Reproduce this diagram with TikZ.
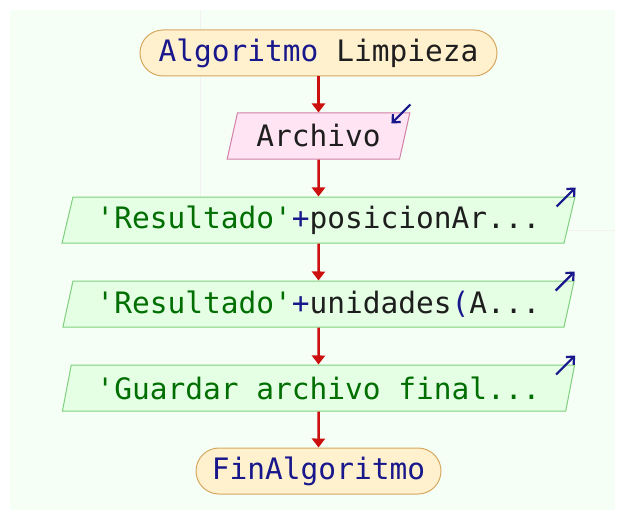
\documentclass[tikz,border=0pt]{standalone}
\usepackage{fontspec}
\setmonofont{DejaVu Sans Mono}
\usetikzlibrary{shapes.geometric}
\usetikzlibrary{arrows.meta}

\definecolor{kwblue}{RGB}{24,24,140}
\definecolor{strgreen}{RGB}{0,110,0}
\definecolor{flowred}{RGB}{204,16,16}
\definecolor{bgcol}{RGB}{245,255,245}
\definecolor{termfill}{RGB}{255,240,206}
\definecolor{termdraw}{RGB}{214,168,96}
\definecolor{infill}{RGB}{255,228,244}
\definecolor{indraw}{RGB}{210,128,168}
\definecolor{outfill}{RGB}{228,255,228}
\definecolor{outdraw}{RGB}{128,208,128}
\definecolor{plain}{RGB}{30,30,30}

\tikzset{
  terminal/.style={rectangle, rounded corners=23pt, minimum height=46pt, fill=termfill, draw=termdraw, line width=1pt},
  slanted/.style={trapezium, trapezium left angle=71, trapezium right angle=109, trapezium stretches=true, minimum height=46pt, line width=1pt},
  readbox/.style={slanted, fill=infill, draw=indraw},
  writebox/.style={slanted, fill=outfill, draw=outdraw},
  flow/.style={line width=2.5pt, color=flowred, -{Triangle[length=9pt, width=13pt]}},
  ioarrow/.style={line width=2.2pt, color=kwblue, -{Straight Barb[length=6pt, width=11pt]}}
}

\begin{document}
\begin{tikzpicture}
[x=1pt, y=-1pt, every node/.style={inner sep=0pt, text=plain, font=\ttfamily\fontsize{29.5}{36}\selectfont}]
\useasboundingbox (0,0) rectangle (634,516);
\fill [bgcol] (10,10) rectangle (615,510);
\draw [black!5, line width=1pt] (200,10) -- (200,230) -- (615,230);
% flowchart nodes
\node (start) [terminal, minimum width=357pt] at (318.5,53) {\textcolor{kwblue}{Algoritmo} Limpieza};
\node (archivo) [readbox, minimum width=183pt] at (318.5,136) {Archivo};
\node (res1) [writebox, minimum width=514pt] at (318.5,220) {\textcolor{strgreen}{'Resultado'}\textcolor{kwblue}{+}posicionAr...};
\node (res2) [writebox, minimum width=514pt] at (318.5,304) {\textcolor{strgreen}{'Resultado'}\textcolor{kwblue}{+}unidades\textcolor{kwblue}{(}A...};
\node (guardar) [writebox, minimum width=514pt] at (318.5,388) {\textcolor{strgreen}{'Guardar archivo final...}};
\node (fin) [terminal, minimum width=245pt] at (318.5,471) {\textcolor{kwblue}{FinAlgoritmo}};
% connectors
\draw [flow] (start) -- (archivo);
\draw [flow] (archivo) -- (res1);
\draw [flow] (res1) -- (res2);
\draw [flow] (res2) -- (guardar);
\draw [flow] (guardar) -- (fin);
% read / write marks
\draw [ioarrow] ([shift={(0,-8)}]archivo.top right corner) -- ([shift={(-19,11)}]archivo.top right corner);
\foreach \n in {res1, res2, guardar}
  \draw [ioarrow] ([shift={(-19,10)}]\n.top right corner) -- ([shift={(0,-9)}]\n.top right corner);
\end{tikzpicture}
\end{document}
